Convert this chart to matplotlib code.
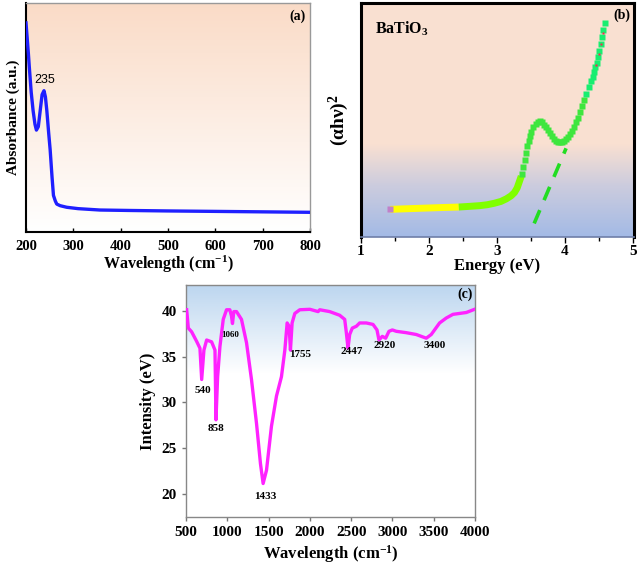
import numpy as np
import matplotlib
matplotlib.use("Agg")
import matplotlib.pyplot as plt
from matplotlib.colors import LinearSegmentedColormap

plt.rcParams['font.family'] = ['Liberation Serif', 'DejaVu Serif']
plt.rcParams['font.weight'] = 'bold'
plt.rcParams['axes.labelweight'] = 'bold'
plt.rcParams['mathtext.fontset'] = 'custom'
plt.rcParams['mathtext.rm'] = 'Liberation Serif:bold'
plt.rcParams['mathtext.bf'] = 'Liberation Serif:bold'
plt.rcParams['mathtext.it'] = 'Liberation Serif:bold:italic'
plt.rcParams['mathtext.default'] = 'rm'

# ---------------- data ----------------
# (a) UV-Vis absorbance
wl_a = [200, 202, 205, 207, 211, 215, 219, 222, 226, 230, 234, 238, 241, 244, 248, 251, 255, 258,
        262, 265, 272, 286, 310, 356, 420, 497, 600, 700, 800]
abs_a = [0.913, 0.86, 0.78, 0.72, 0.61, 0.53, 0.47, 0.445, 0.46, 0.53, 0.60, 0.617, 0.59, 0.53,
         0.43, 0.36, 0.24, 0.16, 0.135, 0.122, 0.115, 0.108, 0.102, 0.096, 0.094, 0.092, 0.090, 0.088, 0.086]
peak_a = 235

# (b) Tauc plot
e_yellow = [1.43, 1.6, 1.8, 2.0, 2.2, 2.44]
t_yellow = [0.118, 0.120, 0.122, 0.124, 0.126, 0.128]
e_lime = [2.44, 2.6, 2.75, 2.86, 2.96, 3.06, 3.14, 3.21, 3.26, 3.30, 3.33, 3.36]
t_lime = [0.128, 0.131, 0.134, 0.138, 0.144, 0.152, 0.163, 0.176, 0.19, 0.21, 0.235, 0.26]
e_green = [3.37, 3.39, 3.41, 3.43, 3.45, 3.47, 3.49, 3.51, 3.54, 3.57, 3.60, 3.63, 3.66, 3.69, 3.72,
           3.75, 3.78, 3.81, 3.84, 3.87, 3.90, 3.93, 3.96, 3.99, 4.02, 4.05, 4.08, 4.11, 4.14, 4.17,
           4.20, 4.23, 4.26, 4.29]
t_green = [0.27, 0.30, 0.33, 0.36, 0.39, 0.41, 0.43, 0.45, 0.47, 0.485, 0.493, 0.495, 0.49, 0.48, 0.47,
           0.458, 0.445, 0.432, 0.42, 0.412, 0.406, 0.404, 0.405, 0.41, 0.418, 0.428, 0.44, 0.455, 0.47, 0.49,
           0.51, 0.535, 0.56, 0.585]
e_top = [4.32, 4.35, 4.38, 4.41, 4.43, 4.45, 4.47, 4.49, 4.51, 4.53, 4.55, 4.57, 4.59]
t_top = [0.61, 0.64, 0.665, 0.685, 0.705, 0.725, 0.745, 0.77, 0.795, 0.825, 0.855, 0.885, 0.915]
e_red = [4.46, 4.50, 4.53, 4.56]
t_red = [0.735, 0.78, 0.825, 0.87]
e_fit = [3.55, 4.02]
t_fit = [0.058, 0.379]

# (c) FTIR
wn_c = [508, 528, 568, 629, 669, 690, 717, 750, 810, 851, 863, 883, 911, 951, 991, 1031, 1051, 1063,
        1079, 1112, 1172, 1233, 1293, 1354, 1402, 1434, 1475, 1535, 1596, 1656, 1697, 1725, 1749, 1765,
        1785, 1818, 1878, 2000, 2100, 2120, 2240, 2361, 2422, 2442, 2462, 2482, 2514, 2563, 2603, 2684,
        2765, 2813, 2837, 2877, 2918, 2958, 2999, 3047, 3168, 3289, 3349, 3410, 3470, 3571, 3652, 3733,
        3813, 3894, 3995]
int_c = [40.1, 38.1, 37.7, 36.65, 35.9, 32.5, 35.7, 36.8, 36.6, 35.7, 28.1, 32.8, 36.1, 39.05, 40.1, 40.1,
         39.4, 38.6, 39.9, 39.9, 39.05, 36.5, 32.5, 27.7, 23.3, 21.15, 22.6, 27.4, 30.7, 32.8, 35.7, 38.66,
         38.3, 35.7, 38.66, 39.7, 40.1, 40.15, 39.9, 40.1, 39.9, 39.5, 39.05, 37.6, 35.9, 37.4, 38.1, 38.3,
         38.66, 38.66, 38.5, 37.9, 36.8, 37.2, 37.0, 37.75, 37.9, 37.75, 37.6, 37.4, 37.2, 37.0, 37.4, 38.66,
         39.2, 39.6, 39.7, 39.8, 40.15]
peak_labels_c = ["540", "858", "1060", "1433", "1755", "2447", "2920", "3400"]
label_x_c = [702, 863, 1039, 1466, 1878, 2502, 2906, 3511]
label_y_c = [31.3, 27.1, 37.3, 19.7, 35.2, 35.5, 36.2, 36.2]

# ---------------- figure ----------------
W, H = 638, 564
fig = plt.figure(figsize=(W / 100, H / 100), dpi=100)


def ax_px(l, t, r, b):
    return fig.add_axes([l / W, 1 - b / H, (r - l) / W, (b - t) / H])


def gradient(ax, stops):
    cmap = LinearSegmentedColormap.from_list('g', stops)
    grad = np.linspace(1, 0, 256).reshape(-1, 1)
    ax.imshow(grad, extent=[0, 1, 0, 1], transform=ax.transAxes, aspect='auto',
              cmap=cmap, vmin=0, vmax=1, zorder=0, interpolation='bilinear')


# ---------- (a) ----------
axa = ax_px(26, 3, 310, 232)
gradient(axa, [(0.0, (1, 1, 1)), (1.0, (0.98, 0.86, 0.78))])
axa.plot(wl_a, abs_a, color='#1f1fff', lw=2.4, zorder=3)
axa.set_xlim(200, 800)
axa.set_ylim(0, 1)
axa.set_yticks([])
axa.set_xticks([200, 300, 400, 500, 600, 700, 800])
axa.tick_params(axis='x', labelsize=10.5, length=3, direction='in', width=1, pad=6)
axa.text(240, 0.665, str(peak_a), fontsize=9, family='Liberation Sans', fontweight='normal',
         ha='center', va='center')
axa.text(0.985, 0.97, '(a)', transform=axa.transAxes, fontsize=10, ha='right', va='top')
axa.set_xlabel('Wavelength (cm$^{-1}$)', fontsize=11.5, labelpad=0)
axa.set_ylabel('Absorbance (a.u.)', fontsize=11, labelpad=4)
for s in ['left', 'bottom']:
    axa.spines[s].set_linewidth(1.5)
for s in ['top', 'right']:
    axa.spines[s].set_color('#999999')
    axa.spines[s].set_linewidth(1.0)

# ---------- (b) ----------
axb = ax_px(361, 3, 634, 237)
gradient(axb, [(0.0, (0.64, 0.73, 0.90)), (0.22, (0.80, 0.80, 0.87)),
               (0.40, (0.98, 0.88, 0.82)), (1.0, (0.98, 0.88, 0.82))])
axb.plot(e_fit, t_fit, color='#22dd22', lw=2.6, ls=(0, (4, 3)), zorder=2)
axb.plot(e_yellow, t_yellow, color='#ffff00', lw=5, solid_capstyle='butt', zorder=3)
axb.plot(e_lime, t_lime, color='#80ff00', lw=5, solid_capstyle='butt', zorder=3)
axb.plot(e_green, t_green, ls='none', marker='s', ms=5, color='#3ee63e', mec='none', zorder=3)
axb.plot(e_top, t_top, ls='none', marker='s', ms=5, color='#18ee70', mec='none', zorder=3)
axb.plot(e_red, t_red, ls='none', marker='s', ms=2, color='#ff2050', mec='none', zorder=4)
axb.plot(e_yellow[:1], t_yellow[:1], ls='none', marker='s', ms=4, color='#c080c8', mec='none', zorder=4)
axb.set_xlim(1, 5.02)
axb.set_ylim(0, 1)
axb.set_yticks([])
axb.set_xticks([1, 2, 3, 4, 5])
axb.set_xticks([1.5, 2.5, 3.5, 4.5], minor=True)
axb.tick_params(axis='x', which='both', labelsize=11, length=3, direction='out', width=1)
axb.tick_params(axis='x', which='major', length=4, pad=2)
axb.text(0.05, 0.89, 'BaTiO$_{3}$', transform=axb.transAxes, fontsize=11.5, ha='left', va='center')
axb.text(0.985, 0.975, '(b)', transform=axb.transAxes, fontsize=10, ha='right', va='top')
axb.set_xlabel('Energy (eV)', fontsize=12, labelpad=0)
axb.set_ylabel('(αhν)$^{2}$', fontsize=14, labelpad=7)
for s in ['left', 'top', 'right']:
    axb.spines[s].set_linewidth(2.2)
axb.spines['bottom'].set_color('#6f7fa8')
axb.spines['bottom'].set_linewidth(1.2)

# ---------- (c) ----------
axc = ax_px(186, 285, 475, 517)
gradient(axc, [(0.0, (1, 1, 1)), (0.62, (1, 1, 1)), (1.0, (0.74, 0.84, 0.94))])
axc.plot(wn_c, int_c, color='#ff22ff', lw=2.4, zorder=3)
axc.set_xlim(500, 4000)
axc.set_ylim(17.5, 42.8)
axc.set_xticks([500, 1000, 1500, 2000, 2500, 3000, 3500, 4000])
axc.set_yticks([20, 25, 30, 35, 40])
axc.tick_params(axis='both', labelsize=11, length=3, direction='out', width=1, color='#777777')
for lab, x, y in zip(peak_labels_c, label_x_c, label_y_c):
    axc.text(x, y, lab, fontsize=6.5 if lab == "1060" else 8, ha='center', va='center', zorder=4)
axc.text(3874, 41.75, '(c)', fontsize=10, ha='center', va='center')
axc.set_xlabel('Wavelength (cm$^{-1}$)', fontsize=12, labelpad=3)
axc.set_ylabel('Intensity (eV)', fontsize=12, labelpad=4)
for s in axc.spines.values():
    s.set_color('#888888')
    s.set_linewidth(1.0)

fig.savefig('out.png', dpi=100)
